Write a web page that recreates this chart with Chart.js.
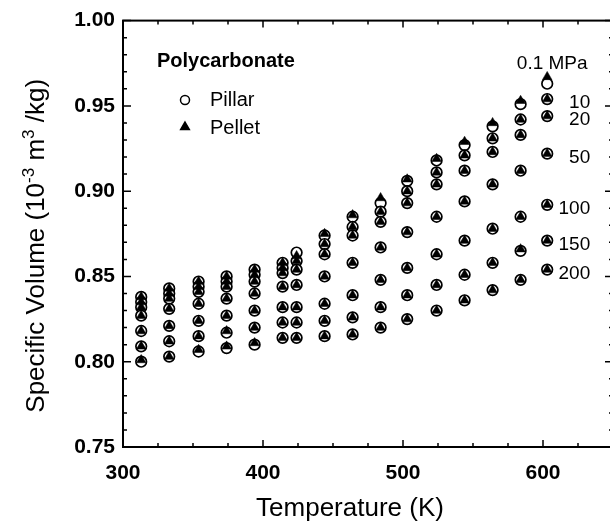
<!doctype html>
<html lang="en">
  <head>
    <meta charset="utf-8" />
    <title>Polycarbonate PVT</title>
    <style>
      html,
      body {
        margin: 0;
        padding: 0;
        background: #fff;
        overflow: hidden;
      }
      .chartBox {
        width: 620px;
        height: 523px;
      }
    </style>
  </head>
  <body>
    <div class="chartBox">
      <canvas id="myChart"></canvas>
    </div>
    <script src="https://cdn.jsdelivr.net/npm/chart.js/dist/chart.umd.min.js"></script>
    <script>
      // data (specific volume, 10^-3 m3/kg)
      const temperatures = [313, 333, 354, 374, 394, 414, 424, 444, 464, 484, 503, 524, 544, 564, 584, 603];
      const pressures = [0.1, 10, 20, 50, 100, 150, 200];
      const pressureLabels = ["0.1 MPa", "10", "20", "50", "100", "150", "200"];

      const pillar_0_1 = [0.838, 0.843, 0.847, 0.85, 0.854, 0.858, 0.864, 0.874, 0.885, 0.893, 0.906, 0.918, 0.927, 0.938, 0.951, 0.963];
      const pillar_10 = [0.835, 0.84, 0.844, 0.847, 0.851, 0.855, 0.859, 0.869, 0.879, 0.888, 0.9, 0.911, 0.921, 0.931, 0.942, 0.954];
      const pillar_20 = [0.832, 0.837, 0.841, 0.844, 0.847, 0.852, 0.854, 0.863, 0.874, 0.882, 0.893, 0.904, 0.912, 0.923, 0.933, 0.944];
      const pillar_50 = [0.827, 0.831, 0.834, 0.837, 0.84, 0.844, 0.845, 0.85, 0.858, 0.867, 0.876, 0.885, 0.894, 0.904, 0.912, 0.922];
      const pillar_100 = [0.818, 0.821, 0.824, 0.827, 0.83, 0.832, 0.832, 0.834, 0.839, 0.848, 0.855, 0.863, 0.871, 0.878, 0.885, 0.892];
      const pillar_150 = [0.809, 0.812, 0.815, 0.817, 0.82, 0.823, 0.823, 0.824, 0.826, 0.832, 0.839, 0.845, 0.851, 0.858, 0.865, 0.871];
      const pillar_200 = [0.8, 0.803, 0.806, 0.808, 0.81, 0.814, 0.814, 0.815, 0.816, 0.82, 0.825, 0.83, 0.836, 0.842, 0.848, 0.854];

      const pellet_0_1 = [0.838, 0.843, 0.847, 0.85, 0.854, 0.858, 0.862, 0.875, 0.886, 0.896, 0.907, 0.919, 0.929, 0.94, 0.953, 0.967];
      const pellet_10 = [0.835, 0.84, 0.844, 0.847, 0.851, 0.855, 0.859, 0.869, 0.879, 0.888, 0.9, 0.911, 0.921, 0.931, 0.942, 0.954];
      const pellet_20 = [0.832, 0.837, 0.841, 0.844, 0.847, 0.852, 0.854, 0.863, 0.874, 0.882, 0.893, 0.904, 0.912, 0.923, 0.933, 0.944];
      const pellet_50 = [0.827, 0.831, 0.834, 0.837, 0.84, 0.844, 0.845, 0.85, 0.858, 0.867, 0.876, 0.885, 0.894, 0.904, 0.912, 0.922];
      const pellet_100 = [0.818, 0.821, 0.824, 0.827, 0.83, 0.832, 0.832, 0.834, 0.839, 0.848, 0.855, 0.863, 0.871, 0.878, 0.885, 0.892];
      const pellet_150 = [0.809, 0.812, 0.815, 0.818, 0.82, 0.823, 0.823, 0.824, 0.826, 0.832, 0.839, 0.845, 0.851, 0.858, 0.866, 0.871];
      const pellet_200 = [0.801, 0.803, 0.807, 0.809, 0.811, 0.814, 0.814, 0.815, 0.816, 0.82, 0.825, 0.83, 0.836, 0.842, 0.848, 0.854];

      const xTicks = [300, 400, 500, 600];
      const yTicks = [0.75, 0.8, 0.85, 0.9, 0.95, 1.0];

      const pillarSeries = [pillar_0_1, pillar_10, pillar_20, pillar_50, pillar_100, pillar_150, pillar_200];
      const pelletSeries = [pellet_0_1, pellet_10, pellet_20, pellet_50, pellet_100, pellet_150, pellet_200];

      function toPoints(series) {
        let pts = [];
        series.forEach((vals) => {
          vals.forEach((v, i) => pts.push({ x: temperatures[i], y: v }));
        });
        return pts;
      }

      const FONT = "'Liberation Sans', Arial, Helvetica, sans-serif";

      // frame, inward ticks, titles and text annotations
      const decor = {
        id: "decor",
        afterDraw(chart) {
          const {
            ctx,
            chartArea: { top, bottom, left, right },
            scales: { x, y },
          } = chart;
          ctx.save();
          ctx.strokeStyle = "#000";
          ctx.lineWidth = 2;
          ctx.strokeRect(left, top, right - left, bottom - top);

          ctx.lineWidth = 1.5;
          ctx.beginPath();
          for (let t = 300; t <= 650; t += 25) {
            const px = x.getPixelForValue(t);
            const len = t % 100 === 0 ? 7 : 4;
            ctx.moveTo(px, bottom);
            ctx.lineTo(px, bottom - len);
            ctx.moveTo(px, top);
            ctx.lineTo(px, top + len);
          }
          for (let k = 75; k <= 100; k++) {
            const py = y.getPixelForValue(k / 100);
            const len = k % 5 === 0 ? 8 : 4;
            ctx.moveTo(left, py);
            ctx.lineTo(left + len, py);
            ctx.moveTo(right, py);
            ctx.lineTo(right - len, py);
          }
          ctx.stroke();

          ctx.fillStyle = "#000";
          // x title
          ctx.font = "26px " + FONT;
          ctx.textAlign = "center";
          ctx.textBaseline = "alphabetic";
          ctx.fillText("Temperature (K)", 350, 516);

          // y title with superscripts
          const parts = [
            ["Specific Volume (10", false],
            ["-3", true],
            [" m", false],
            ["3", true],
            [" /kg)", false],
          ];
          let total = 0;
          parts.forEach((p) => {
            ctx.font = (p[1] ? "17px " : "26px ") + FONT;
            total += ctx.measureText(p[0]).width;
          });
          ctx.translate(44, (top + bottom) / 2 + 12);
          ctx.rotate(-Math.PI / 2);
          ctx.textAlign = "left";
          let cx = -total / 2;
          parts.forEach((p) => {
            ctx.font = (p[1] ? "17px " : "26px ") + FONT;
            ctx.fillText(p[0], cx, p[1] ? -10 : 0);
            cx += ctx.measureText(p[0]).width;
          });
          ctx.setTransform(1, 0, 0, 1, 0, 0);

          // legend block
          ctx.textAlign = "left";
          ctx.textBaseline = "middle";
          ctx.font = "bold 20px " + FONT;
          ctx.fillText("Polycarbonate", 157, 61);
          ctx.font = "20px " + FONT;
          ctx.fillText("Pillar", 210, 100);
          ctx.fillText("Pellet", 210, 128);
          ctx.fillStyle = "#fff";
          Chart.helpers.drawPoint(
            ctx,
            { pointStyle: "circle", radius: 4.5, borderWidth: 1.2, rotation: 0 },
            185,
            100
          );
          ctx.fillStyle = "#000";
          Chart.helpers.drawPoint(
            ctx,
            { pointStyle: "triangle", radius: 5, borderWidth: 0.5, rotation: 0 },
            185,
            127
          );

          // pressure labels next to the last temperature column
          const last = temperatures.length - 1;
          const lx = x.getPixelForValue(temperatures[last]);
          ctx.font = "19px " + FONT;
          pressureLabels.forEach((lab, i) => {
            const py = y.getPixelForValue(pillarSeries[i][last]);
            if (i === 0) {
              ctx.textAlign = "center";
              ctx.fillText(lab, lx + 5, py - 20);
            } else {
              ctx.textAlign = "right";
              ctx.fillText(lab, lx + 43, py + 4);
            }
          });
          ctx.restore();
        },
      };

      const config = {
        type: "scatter",
        data: {
          datasets: [
            {
              label: "Pellet",
              data: toPoints(pelletSeries),
              pointStyle: "triangle",
              pointRadius: 5.5,
              backgroundColor: "#000",
              borderColor: "#000",
              borderWidth: 0.5,
              order: 1,
            },
            {
              label: "Pillar",
              data: toPoints(pillarSeries),
              pointStyle: "circle",
              pointRadius: 5.3,
              backgroundColor: "#fff",
              borderColor: "#000",
              borderWidth: 1.7,
              order: 2,
            },
          ],
        },
        options: {
          responsive: true,
          maintainAspectRatio: false,
          animation: false,
          layout: { padding: { top: 19, right: 6, left: 0, bottom: 0 } },
          scales: {
            x: {
              type: "linear",
              min: 300,
              max: 650,
              grid: { display: false, drawTicks: false },
              border: { display: false },
              afterBuildTicks: (s) => {
                s.ticks = xTicks.map((v) => ({ value: v }));
              },
              afterFit: (s) => {
                s.height = 76;
              },
              ticks: {
                padding: 14,
                color: "#000",
                font: { family: FONT, size: 21, weight: "bold" },
                callback: (v) => String(v),
              },
            },
            y: {
              min: 0.75,
              max: 1.0,
              grid: { display: false, drawTicks: false },
              border: { display: false },
              afterBuildTicks: (s) => {
                s.ticks = yTicks.map((v) => ({ value: v }));
              },
              afterFit: (s) => {
                s.width = 123;
              },
              ticks: {
                padding: 8,
                color: "#000",
                font: { family: FONT, size: 21, weight: "bold" },
                callback: (v) => v.toFixed(2),
              },
            },
          },
          plugins: {
            legend: { display: false },
            tooltip: { enabled: false },
          },
        },
        plugins: [decor],
      };

      const myChart = new Chart(document.getElementById("myChart"), config);
    </script>
  </body>
</html>
